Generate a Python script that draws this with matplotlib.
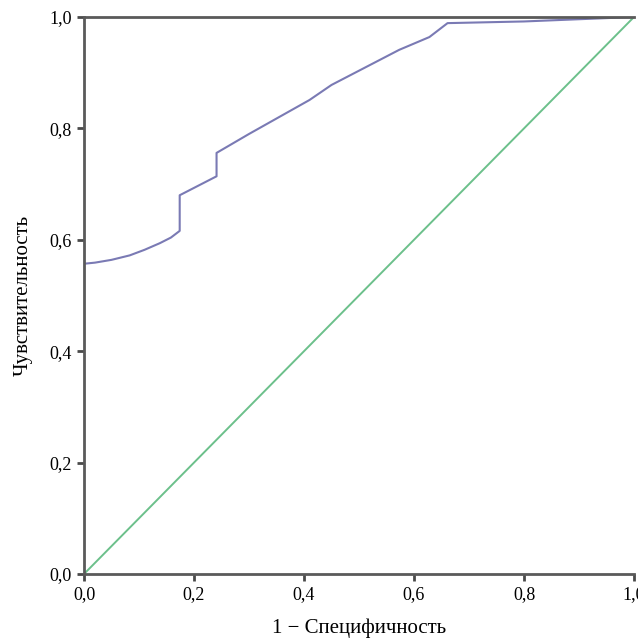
import matplotlib
matplotlib.use("Agg")
import matplotlib.pyplot as plt

fpr = [0.0, 0.02, 0.05, 0.083, 0.11, 0.138, 0.158, 0.174, 0.174, 0.241, 0.241, 0.30, 0.41, 0.45, 0.573, 0.628, 0.661, 0.80, 1.0]
tpr = [0.557, 0.559, 0.564, 0.572, 0.582, 0.594, 0.604, 0.616, 0.680, 0.714, 0.756, 0.790, 0.851, 0.878, 0.941, 0.964, 0.989, 0.992, 1.0]
ref_x = [0.0, 1.0]
ref_y = [0.0, 1.0]
ticks = [0.0, 0.2, 0.4, 0.6, 0.8, 1.0]
tick_labels = ["0,0", "0,2", "0,4", "0,6", "0,8", "1,0"]

plt.rcParams['font.family'] = ['Liberation Serif', 'DejaVu Serif']

fig = plt.figure(figsize=(6.38, 6.40), dpi=100)
ax = fig.add_axes([84/638, 1-574/640, 550/638, 557/640])

ax.plot(ref_x, ref_y, color='#6cc08b', lw=1.4, solid_capstyle='butt')
ax.plot(fpr, tpr, color='#7a7ab4', lw=1.5)

ax.set_xlim(0, 1)
ax.set_ylim(0, 1)
ax.set_xticks(ticks)
ax.set_xticklabels(tick_labels)
ax.set_yticks(ticks)
ax.set_yticklabels(tick_labels)

ax.spines['right'].set_visible(False)
for s in ['left', 'bottom', 'top']:
    ax.spines[s].set_color('#5a5a5a')
    ax.spines[s].set_linewidth(2.0)

ax.tick_params(axis='both', direction='out', length=5, width=2, color='#4a4a4a',
               labelsize=13, pad=4)
ax.set_xlabel("1 − Специфичность", fontsize=15, labelpad=11)
ax.set_ylabel("Чувствительность", fontsize=15, labelpad=12)

fig.savefig("out.png", dpi=100)
